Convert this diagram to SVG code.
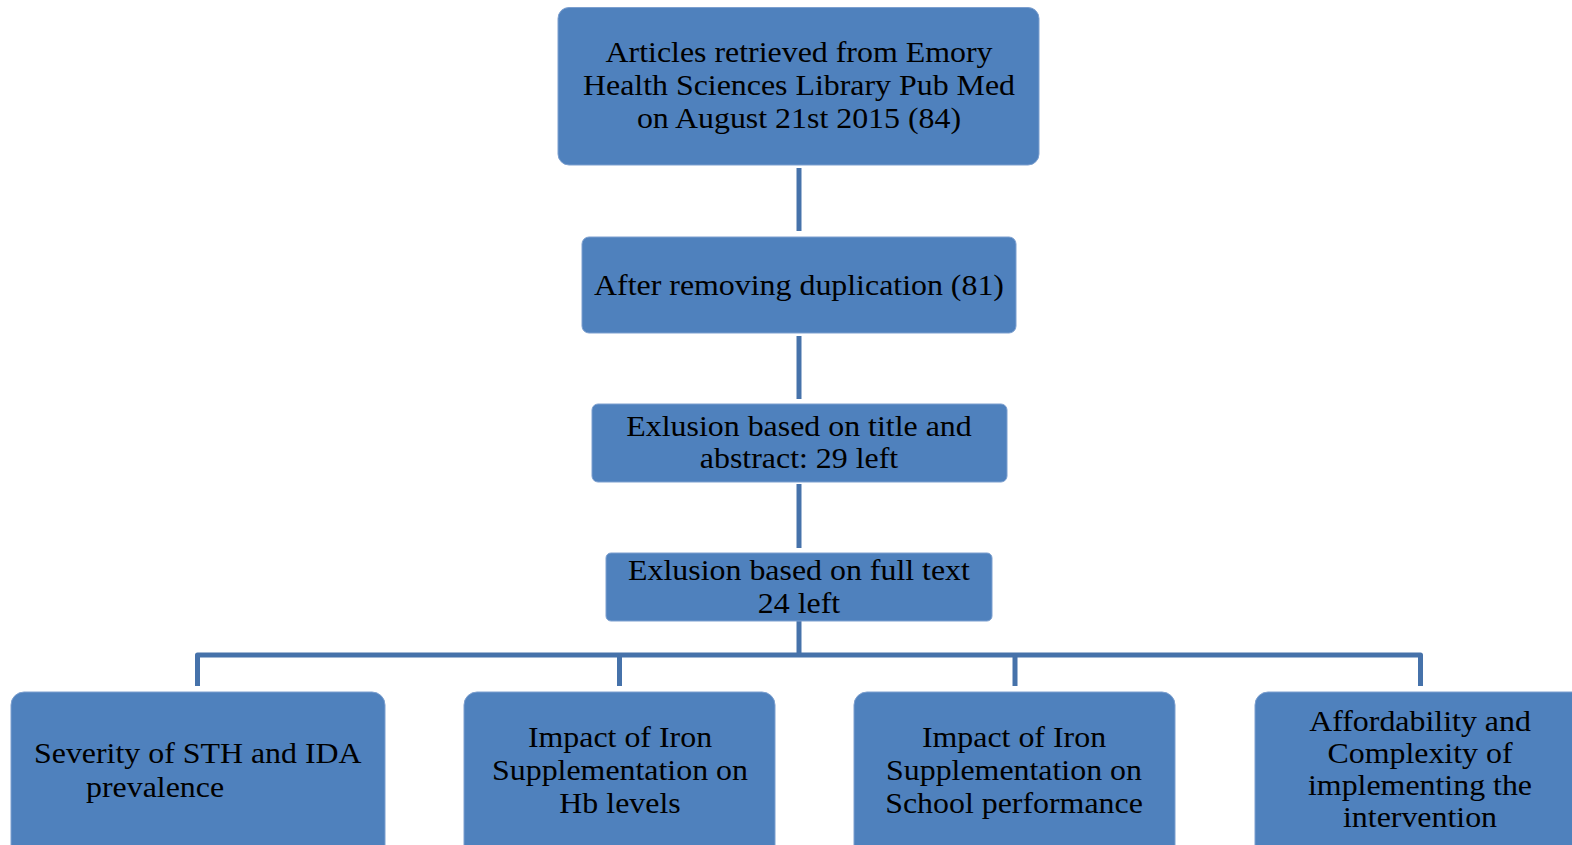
<svg xmlns="http://www.w3.org/2000/svg" width="1572" height="845" viewBox="0 0 1572 845">
<style>
.box{fill:#4f81bd;stroke:#7c9fcf;stroke-width:1}
.t{font-family:"Liberation Serif","Times New Roman",serif;font-size:29px;fill:#000;text-anchor:middle}
.ts{font-family:"Liberation Serif","Times New Roman",serif;font-size:29px;fill:#000}
.c{fill:none;stroke:#4672aa;stroke-width:5;stroke-linejoin:round}
</style>
<rect width="1572" height="845" fill="#fff"/>
<g id="connectors">
<line class="c" x1="799" y1="168" x2="799" y2="231"/>
<line class="c" x1="799" y1="336" x2="799" y2="399"/>
<line class="c" x1="799" y1="484" x2="799" y2="548"/>
<line class="c" x1="799" y1="621" x2="799" y2="655"/>
<path class="c" d="M197.5 686 V655 H1420.5 V686"/>
<line class="c" x1="619.5" y1="655" x2="619.5" y2="686"/>
<line class="c" x1="1015" y1="655" x2="1015" y2="686"/>
</g>
<g id="n1">
<rect class="box" x="558" y="7.5" width="481" height="157.5" rx="11"/>
<text class="t" transform="translate(799 62) scale(1.1 1)">Articles retrieved from Emory</text>
<text class="t" transform="translate(799 95) scale(1.1 1)">Health Sciences Library Pub Med</text>
<text class="t" transform="translate(799 128) scale(1.1 1)">on August 21st 2015 (84)</text>
</g>
<g id="n2">
<rect class="box" x="582" y="237" width="434" height="96" rx="7"/>
<text class="t" transform="translate(799 295) scale(1.1 1)">After removing duplication (81)</text>
</g>
<g id="n3">
<rect class="box" x="592" y="404" width="415" height="78" rx="6"/>
<text class="t" transform="translate(799 436) scale(1.1 1)">Exlusion based on title and</text>
<text class="t" transform="translate(799 468) scale(1.1 1)">abstract: 29 left</text>
</g>
<g id="n4">
<rect class="box" x="606" y="553" width="386" height="68" rx="5"/>
<text class="t" transform="translate(799 580) scale(1.1 1)">Exlusion based on full text</text>
<text class="t" transform="translate(799 613) scale(1.1 1)">24 left</text>
</g>
<g id="n5">
<rect class="box" x="11" y="692" width="374" height="180" rx="13"/>
<text class="ts" transform="translate(34 763) scale(1.1 1)">Severity of STH and IDA</text>
<text class="ts" transform="translate(86 797) scale(1.1 1)">prevalence</text>
</g>
<g id="n6">
<rect class="box" x="464" y="692" width="311" height="180" rx="13"/>
<text class="t" transform="translate(620 747) scale(1.1 1)">Impact of Iron</text>
<text class="t" transform="translate(620 780) scale(1.1 1)">Supplementation on</text>
<text class="t" transform="translate(620 813) scale(1.1 1)">Hb levels</text>
</g>
<g id="n7">
<rect class="box" x="854" y="692" width="321" height="180" rx="13"/>
<text class="t" transform="translate(1014 747) scale(1.1 1)">Impact of Iron</text>
<text class="t" transform="translate(1014 780) scale(1.1 1)">Supplementation on</text>
<text class="t" transform="translate(1014 813) scale(1.1 1)">School performance</text>
</g>
<g id="n8">
<rect class="box" x="1255" y="692" width="340" height="180" rx="13"/>
<text class="t" transform="translate(1420 731) scale(1.1 1)">Affordability and</text>
<text class="t" transform="translate(1420 763) scale(1.1 1)">Complexity of</text>
<text class="t" transform="translate(1420 795) scale(1.1 1)">implementing the</text>
<text class="t" transform="translate(1420 827) scale(1.1 1)">intervention</text>
</g>
</svg>
